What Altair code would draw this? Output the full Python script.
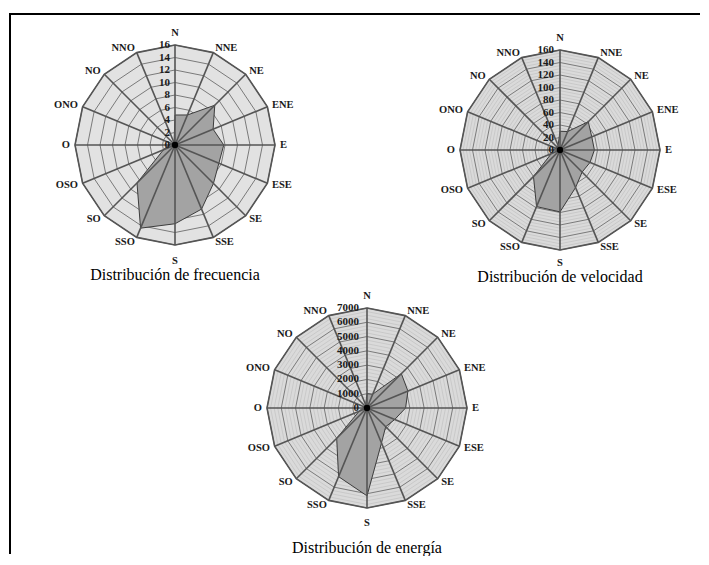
import altair as alt
import pandas as pd

directions = ["N", "NNE", "NE", "ENE", "E", "ESE", "SE", "SSE",
              "S", "SSO", "SO", "OSO", "O", "ONO", "NO", "NNO"]
frecuencia = [4.8, 5.2, 9.0, 6.6, 7.8, 7.6, 8.7, 11.1, 12.6, 14.4, 8.6, 2.0, 1.0, 0.5, 0.4, 0.4]
velocidad = [30, 32, 64, 55, 55, 52, 50, 65, 99, 98, 60, 15, 10, 8, 6, 8]
energia = [1000, 1050, 3400, 3100, 2700, 2100, 1850, 2650, 6150, 5200, 3000, 600, 300, 200, 200, 250]

ticks_frecuencia = [0, 2, 4, 6, 8, 10, 12, 14, 16]
ticks_velocidad = [0, 20, 40, 60, 80, 100, 120, 140, 160]
ticks_energia = [0, 1000, 2000, 3000, 4000, 5000, 6000, 7000]

titulos = ["Distribución de frecuencia", "Distribución de velocidad", "Distribución de energía"]

SERIF = "Liberation Serif"
MINOR = "#c2c2c2"
MAJOR = "#7a7a7a"
SPOKE = "#555555"
POLY_FILL = "#a3a3a3"
POLY_STROKE = "#3c3c3c"


def radar(values, ticks, n_minor, title, xdom, ydom, w, h, gap, title_y, s_r, bg, border=False):
    vmax = ticks[-1]
    dir_df = pd.DataFrame({"idx": list(range(16)), "dir": directions, "t": values})
    ring_df = pd.DataFrame([(t, i) for t in ticks[1:] for i in range(16)], columns=["t", "idx"])
    step = ticks[1] - ticks[0]
    minor_vals = []
    if n_minor > 1:
        for k in range(len(ticks) - 1):
            for j in range(1, n_minor):
                minor_vals.append(ticks[k] + step * j / n_minor)
    minor_df = pd.DataFrame([(t, i) for t in minor_vals for i in range(16)], columns=["t", "idx"])
    outer_df = pd.DataFrame({"t": [vmax] * 16, "idx": list(range(16))})
    tick_df = pd.DataFrame({"t": ticks, "lab": [str(t) for t in ticks]})
    center_df = pd.DataFrame({"t": [0]})

    xs = alt.Scale(domain=xdom, nice=False, zero=False)
    ys = alt.Scale(domain=ydom, nice=False, zero=False)
    X = alt.X("x:Q", scale=xs, axis=None)
    Y = alt.Y("y:Q", scale=ys, axis=None)

    def polar(ch):
        return ch.transform_calculate(
            th="datum.idx*PI/8", rr=f"datum.t/{vmax}"
        ).transform_calculate(
            x="datum.rr*sin(datum.th)", y="datum.rr*cos(datum.th)"
        )

    background = polar(alt.Chart(outer_df).mark_line(
        interpolate="linear-closed", fill=bg, strokeWidth=0)).encode(
        x=X, y=Y, order="idx:Q")
    layers = [background]
    if len(minor_df):
        minor_rings = polar(alt.Chart(minor_df).mark_line(
            interpolate="linear-closed", color=MINOR, strokeWidth=0.7)).encode(
            x=X, y=Y, order="idx:Q", detail="t:Q")
        layers.append(minor_rings)
    rings = polar(alt.Chart(ring_df).mark_line(
        interpolate="linear-closed", color=MAJOR, strokeWidth=1)).encode(
        x=X, y=Y, order="idx:Q", detail="t:Q")
    poly = polar(alt.Chart(dir_df).mark_line(
        interpolate="linear-closed", fill=POLY_FILL, stroke=POLY_STROKE, strokeWidth=1)).encode(
        x=X, y=Y, order="idx:Q")
    outer = polar(alt.Chart(outer_df).mark_line(
        interpolate="linear-closed", color=SPOKE, strokeWidth=1.6)).encode(
        x=X, y=Y, order="idx:Q")
    spokes = polar(alt.Chart(outer_df).mark_rule(color=SPOKE, strokeWidth=1.6)).transform_calculate(
        x0="0", y0="0").encode(x=alt.X("x0:Q", scale=xs, axis=None),
                               y=alt.Y("y0:Q", scale=ys, axis=None),
                               x2="x:Q", y2="y:Q")
    center = alt.Chart(center_df).mark_circle(color="black", size=40, opacity=1).transform_calculate(
        x="0", y="0").encode(x=X, y=Y)
    tick_labels = alt.Chart(tick_df).mark_text(
        align="right", baseline="middle", font=SERIF, fontSize=11, fontWeight="bold", color="#1a1a1a"
    ).transform_calculate(x=f"-{gap}", y=f"datum.t/{vmax}").encode(x=X, y=Y, text="lab:N")

    def dir_labels(filt, align, rexpr):
        return alt.Chart(dir_df).transform_filter(filt).transform_calculate(
            th="datum.idx*PI/8", lr=rexpr
        ).transform_calculate(
            x="datum.lr*sin(datum.th)", y="datum.lr*cos(datum.th)"
        ).mark_text(align=align, baseline="middle", font=SERIF, fontSize=10.5,
                    fontWeight="bold", color="#1a1a1a").encode(x=X, y=Y, text="dir:N")

    lab_right = dir_labels("datum.idx > 0 && datum.idx < 8", "left", "1.05")
    lab_left = dir_labels("datum.idx > 8", "right", "1.05")
    lab_ns = dir_labels("datum.idx == 0 || datum.idx == 8", "center",
                        f"datum.idx == 0 ? 1.12 : {s_r}")
    title_df = pd.DataFrame({"titulo": [title]})
    title_mark = alt.Chart(title_df).mark_text(
        align="center", baseline="middle", font=SERIF, fontSize=16, color="black"
    ).encode(x=alt.datum(0, scale=xs), y=alt.datum(title_y, scale=ys), text="titulo:N")

    layers += [rings, poly, outer, spokes, center, tick_labels, lab_right, lab_left, lab_ns, title_mark]
    if border:
        frame_df = pd.DataFrame({"k": [0]})
        left_line = alt.Chart(frame_df).mark_rule(color="black", strokeWidth=2).encode(
            x=alt.value(-40), y=alt.value(-8), y2=alt.value(532))
        top_line = alt.Chart(frame_df).mark_rule(color="black", strokeWidth=2).encode(
            x=alt.value(-41), x2=alt.value(650), y=alt.value(-8))
        layers += [left_line, top_line]
    return alt.layer(*layers).properties(width=w, height=h)


p1 = radar(frecuencia, ticks_frecuencia, 1, titulos[0], [-1.25, 1.25], [-1.37, 1.23], 250, 260,
           0.05, -1.30, 1.16, "#e2e2e2", border=True)
p2 = radar(velocidad, ticks_velocidad, 4, titulos[1], [-1.25, 1.25], [-1.32, 1.28], 250, 260,
           0.06, -1.265, 1.125, "#dadada")
# bottom panel sits in the first grid column; its centre is shifted right via the x domain
p3 = radar(energia, ticks_energia, 4, titulos[2], [-3.17, -0.67], [-1.45, 1.15], 250, 260,
           0.08, -1.40, 1.15, "#dadada")

chart = alt.concat(p1, p2, p3, columns=2, spacing={"row": 11, "column": 135},
                   bounds="flush").properties(
    padding={"left": 0, "top": 5, "right": 0, "bottom": 0}
).configure_view(stroke=None)

chart.save("out.html", embed_options={"renderer": "svg", "actions": False})
